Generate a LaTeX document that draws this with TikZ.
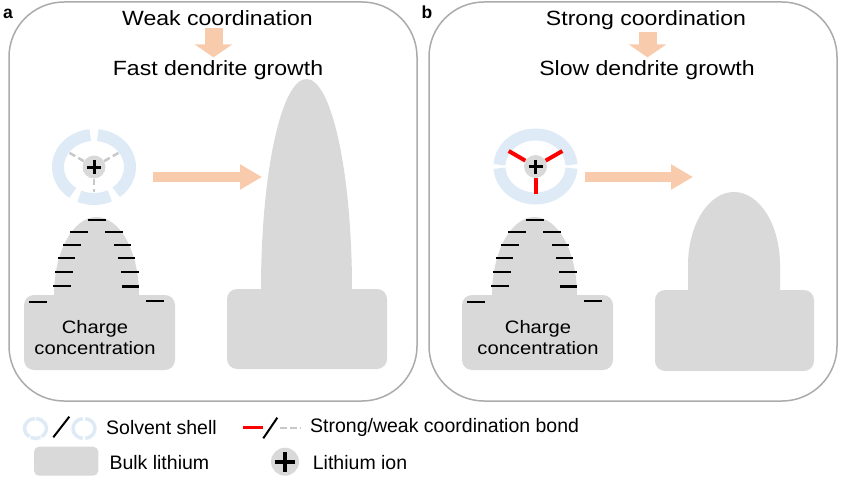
\documentclass[tikz,border=0pt]{standalone}
\usepackage{fontspec}
\setmainfont{Liberation Sans}
\newfontfamily\widefont[FakeStretch=1.12]{Liberation Sans}
\usetikzlibrary{arrows.meta}
\definecolor{lith}{HTML}{D9D9D9}
\definecolor{shellblue}{HTML}{DEEBF7}
\definecolor{peach}{HTML}{F8CBAD}
\definecolor{framegray}{HTML}{ABABAB}
\definecolor{bondgray}{HTML}{C8C8C8}

\begin{document}
\begin{tikzpicture}[x=1pt, y=1pt,
  panel/.style={draw=framegray, line width=1.5pt, rounded corners=55pt},
  title/.style={font=\widefont\fontsize{20.6}{24}\selectfont, inner sep=0pt, anchor=base},
  chargetext/.style={font=\widefont\fontsize{18}{21}\selectfont, align=center, inner sep=0pt, anchor=north},
  legendtext/.style={font=\fontsize{19.5}{23}\selectfont, inner sep=0pt, anchor=base west},
  tag/.style={font=\bfseries\fontsize{17.5}{20}\selectfont, inner sep=0pt, anchor=base},
  downarrow/.style={peach, line width=18pt, -{Triangle[length=13pt,width=37pt]}},
  rightarrow/.style={peach, line width=10pt, -{Triangle[length=22pt,width=24pt]}},
  ion/.style={circle, fill=lith, inner sep=0pt, minimum size=23pt},
  plus/.style={line width=3pt},
  shell/.style={shellblue, line width=12pt},
  weakbond/.style={bondgray, line width=2.5pt, dash pattern=on 6.5pt off 3.5pt},
  strongbond/.style={red, line width=4pt},
  minus/.style={line width=2pt}]

\useasboundingbox (0,0) rectangle (848,-484);

% the two panels
\draw[panel] (9,-2) rectangle (417,-401);
\draw[panel] (429,-2) rectangle (837,-401);
\node[tag] (tagA) at (8,-19) {a};
\node[tag] (tagB) at (427,-19) {b};

% titles
\node[title] (weakA) at (217.5,-26) {Weak coordination};
\node[title] (fastA) at (218,-75.5) {Fast dendrite growth};
\draw[downarrow] ([xshift=-4pt,yshift=-2pt]weakA.south) -- ([xshift=-4pt,yshift=3pt]weakA.south |- fastA.north);

\node[title] (strongB) at (646,-26) {Strong coordination};
\node[title] (slowB) at (647,-75.5) {Slow dendrite growth};
\draw[downarrow] ([xshift=1.5pt,yshift=-2pt]strongB.south) -- ([xshift=1.5pt,yshift=3pt]strongB.south |- slowB.north);

% solvent shell, weak
\node[ion] (ionA) at (94,-167) {};
\draw[plus] (ionA.center) +(-7,0) -- +(7,0) +(0,-7) -- +(0,7);
\foreach \s/\e in {96/234, 246/296, 308/444}
  \draw[shell] ([shift={(\s:36 and 32)}]ionA.center) arc[start angle=\s, end angle=\e, x radius=36, y radius=32];
\foreach \a/\r in {30/30, 150/30, 270/25}
  \draw[weakbond] (ionA) -- ++(\a:\r);

% solvent shell, strong
\node[ion] (ionB) at (535.5,-166.5) {};
\draw[plus] (ionB.center) +(-7,0) -- +(7,0) +(0,-7) -- +(0,7);
\foreach \s/\e in {3/177, 183/357}
  \draw[shell] ([shift={(\s:36 and 32)}]ionB.center) arc[start angle=\s, end angle=\e, x radius=36, y radius=32];
\foreach \a/\r in {30/31, 150/31, 270/27}
  \draw[strongbond] (ionB) -- ++(\a:\r);

% growth arrows
\coordinate (startA) at (153,-177);
\coordinate (tipA) at (262,-177);
\coordinate (startB) at (585,-177);
\coordinate (tipB) at (693,-177);
\draw[rightarrow] (startA) -- (tipA);
\draw[rightarrow] (startB) -- (tipB);

% dendrites
\fill[lith, rounded corners=10pt] (227,-289) rectangle (387,-369);
\fill[lith] (261,-291) -- (261,-289) arc[start angle=180, end angle=0, x radius=45.5, y radius=210] -- (352,-291) -- cycle;
\fill[lith, rounded corners=10pt] (655,-290) rectangle (814,-371);
\fill[lith] (688,-292) -- (688,-265) arc[start angle=180, end angle=0, x radius=46, y radius=73] -- (780,-292) -- cycle;

% charge concentration
\foreach \sx in {0,438} {
  \fill[lith, rounded corners=10pt] (24+\sx,-295) rectangle (175+\sx,-370);
  \fill[lith] (54+\sx,-297) -- (54+\sx,-295) arc[start angle=180, end angle=0, x radius=42.5, y radius=78] -- (139+\sx,-297) -- cycle;
  \foreach \x/\y/\w in {97/220/2, 79/232/2, 114/232/2, 72/245/2, 122.5/245/2, 66.5/258/2,
      126.5/258/2, 64/272/2, 130/272/2, 62/286/2, 130.5/286/3, 38/301.5/2, 155/301/2}
    \draw[minus, line width=\w pt] (\x+\sx-8.75,-\y) -- ++(17.5,0);
}
\node[chargetext] (chargeA) at (95,-320) {Charge\\concentration};
\node[chargetext] (chargeB) at (538,-320) {Charge\\concentration};

% legend
\coordinate (ringL1) at (35.5,-428.5);
\coordinate (ringL2) at (84,-428.5);
\foreach \s/\e in {93/237, 243/297, 303/447}
  \draw[shell, line width=3.5pt] ([shift={(\s:11 and 10)}]ringL1) arc[start angle=\s, end angle=\e, x radius=11, y radius=10];
\draw[line width=2pt] (53.3,-437.3) -- (69.3,-416.7);
\foreach \s/\e in {97/263, 277/443}
  \draw[shell, line width=3.5pt] ([shift={(\s:11 and 10)}]ringL2) arc[start angle=\s, end angle=\e, x radius=11, y radius=10];
\node[legendtext] (shellL) at (106,-434) {Solvent shell};

\draw[strongbond, line width=2.5pt] (243,-427.3) -- (263,-427.3);
\draw[line width=2pt] (263.3,-438.3) -- (277.3,-417.7);
\draw[weakbond, line width=2pt] (280,-427.7) -- (301,-427.7);
\node[legendtext] (bondL) at (310,-432) {Strong/weak coordination bond};

\fill[lith, rounded corners=5pt] (34,-446.7) rectangle (98.3,-475.7);
\node[legendtext] (bulkL) at (109.3,-469) {Bulk lithium};

\node[ion, minimum size=28pt] (ionL) at (285,-461.7) {};
\draw[plus, line width=4pt] (ionL.center) +(-10,0) -- +(10,0) +(0,-10) -- +(0,10);
\node[legendtext] (ionLtext) at (312.7,-469) {Lithium ion};
\end{tikzpicture}
\end{document}
